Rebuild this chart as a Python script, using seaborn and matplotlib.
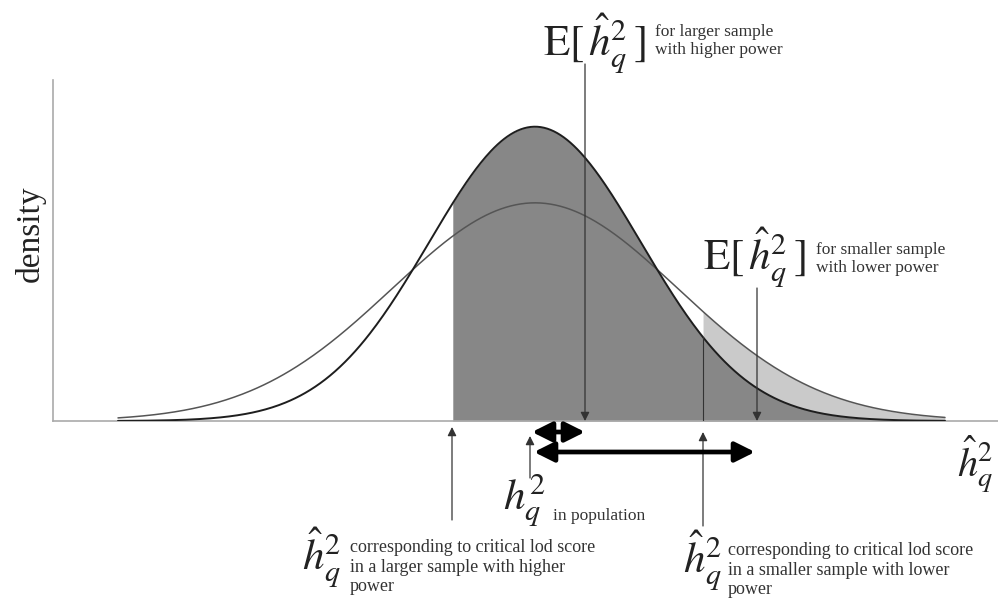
import numpy as np
import pandas as pd
import seaborn as sns
import matplotlib.pyplot as plt

# values (h^2 scale)
x_start, x_end = 0.065, 0.892
mean_h2 = 0.482
sd_large = 0.106   # larger sample, higher power
sd_small = 0.143   # smaller sample, lower power
crit_large = 0.399
crit_small = 0.650
pop_h2 = 0.477
e_large = 0.532
e_small = 0.704

sns.set_theme(style='white')
plt.rcParams['font.family'] = ['Liberation Serif', 'DejaVu Serif']
plt.rcParams['mathtext.fontset'] = 'stix'

W, H = 998, 600
PX_PER_UNIT = 78.2


def fpos(x, y):
    # pixel position -> figure fraction
    return x / W, 1 - y / H


def ydat(p):
    # pixel row -> data y
    return (421 - p) / PX_PER_UNIT


def density(x, sd):
    return np.exp(-0.5 * ((x - mean_h2) / sd) ** 2) / (sd * np.sqrt(2 * np.pi))


xs = np.linspace(x_start, x_end, 500)
d_large = density(xs, sd_large)
d_small = density(xs, sd_small)
df = pd.DataFrame({'h2': np.concatenate([xs, xs]),
                   'density': np.concatenate([d_large, d_small]),
                   'sample': ['larger'] * len(xs) + ['smaller'] * len(xs)})

fig = plt.figure(figsize=(W / 100, H / 100), dpi=100)
ax = fig.add_axes([53 / W, (H - 421) / H, 945 / W, 341 / H])

ax.fill_between(xs, 0, d_small, where=xs >= crit_small, color='#cacaca', lw=0, zorder=1)
ax.fill_between(xs, 0, d_large, where=xs >= crit_large, color='#878787', lw=0, zorder=2)

sns.lineplot(data=df[df['sample'] == 'smaller'], x='h2', y='density', color='#555555',
             lw=1.1, ax=ax, zorder=3)
sns.lineplot(data=df[df['sample'] == 'larger'], x='h2', y='density', color='#1e1e1e',
             lw=1.4, ax=ax, zorder=4)

ax.plot([crit_small, crit_small], [0, density(crit_small, sd_large)], color='#333333',
        lw=0.8, zorder=5)

ax.set_xlim(0, 945 / 1000)
ax.set_ylim(0, 341 / PX_PER_UNIT)
ax.set_xticks([])
ax.set_yticks([])
ax.set_xlabel('')
ax.set_ylabel('')
for s in ['top', 'right']:
    ax.spines[s].set_visible(False)
for s in ['left', 'bottom']:
    ax.spines[s].set_color('#aaaaaa')
    ax.spines[s].set_linewidth(1.2)

thin = dict(arrowstyle='-|>', color='#333333', lw=0.9, mutation_scale=13,
            shrinkA=0, shrinkB=0)
thick = dict(arrowstyle='<|-|>', color='black', lw=3.4, mutation_scale=30,
             shrinkA=0, shrinkB=0)

# vertical pointer arrows
ax.annotate('', xy=(e_large, 0), xytext=(e_large, ydat(64)), arrowprops=thin,
            annotation_clip=False, zorder=6)
ax.annotate('', xy=(e_small, 0), xytext=(e_small, ydat(288)), arrowprops=thin,
            annotation_clip=False, zorder=6)
ax.annotate('', xy=(crit_large, ydat(427)), xytext=(crit_large, ydat(520)),
            arrowprops=thin, annotation_clip=False)
ax.annotate('', xy=(crit_small, ydat(432)), xytext=(crit_small, ydat(526)),
            arrowprops=thin, annotation_clip=False)
ax.annotate('', xy=(pop_h2, ydat(436)), xytext=(pop_h2, ydat(478)),
            arrowprops=thin, annotation_clip=False)

# bias arrows
ax.annotate('', xy=(e_large, ydat(432)), xytext=(pop_h2 + 0.002, ydat(432)),
            arrowprops=thick, annotation_clip=False)
ax.annotate('', xy=(e_small - 0.002, ydat(452)), xytext=(pop_h2 + 0.004, ydat(452)),
            arrowprops=thick, annotation_clip=False)

# labels
fig.text(*fpos(30, 234), 'density', rotation=90, ha='center', va='center',
         fontsize=24, color='#222222')

big = 31
small = 12.5
fig.text(*fpos(543, 56), r'$\mathrm{E}[\,\hat{h}_q^2\,]$', fontsize=big, ha='left',
         va='baseline', color='#222222')
fig.text(*fpos(655, 24), 'for larger sample\nwith higher power', fontsize=small,
         ha='left', va='top', color='#333333', linespacing=1.15)

fig.text(*fpos(703, 270), r'$\mathrm{E}[\,\hat{h}_q^2\,]$', fontsize=big, ha='left',
         va='baseline', color='#222222')
fig.text(*fpos(816, 242), 'for smaller sample\nwith lower power', fontsize=small,
         ha='left', va='top', color='#333333', linespacing=1.15)

fig.text(*fpos(957, 477), r'$\hat{h}_q^2$', fontsize=29, ha='left', va='baseline',
         color='#222222')

fig.text(*fpos(503, 510), r'$h_q^2$', fontsize=big, ha='left', va='baseline',
         color='#222222')
fig.text(*fpos(553, 520), 'in population', fontsize=small, ha='left',
         va='baseline', color='#333333')

fig.text(*fpos(302, 570), r'$\hat{h}_q^2$', fontsize=big, ha='left', va='baseline',
         color='#222222')
fig.text(*fpos(350, 539), 'corresponding to critical lod score\n'
         'in a larger sample with higher\npower', fontsize=13, ha='left',
         va='top', color='#333333', linespacing=1.2)

fig.text(*fpos(683, 573), r'$\hat{h}_q^2$', fontsize=big, ha='left', va='baseline',
         color='#222222')
fig.text(*fpos(728, 542), 'corresponding to critical lod score\n'
         'in a smaller sample with lower\npower', fontsize=13, ha='left',
         va='top', color='#333333', linespacing=1.2)

fig.savefig('out.png', dpi=100)
